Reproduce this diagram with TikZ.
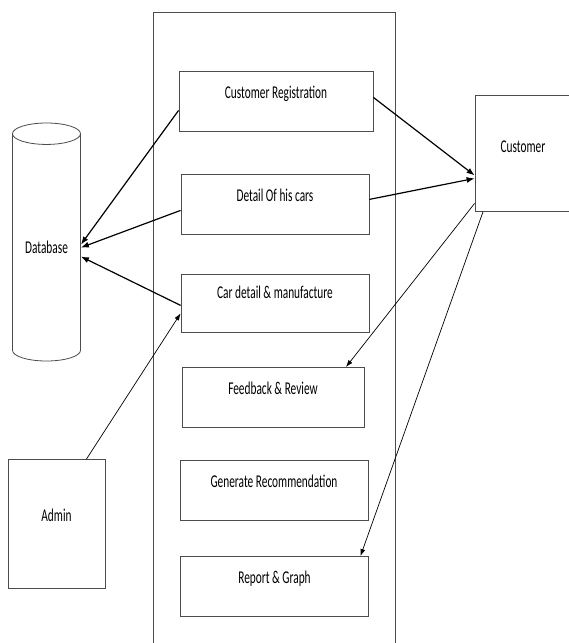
\documentclass[tikz,border=0pt]{standalone}
\usepackage{fontspec}
\setmainfont[FakeStretch=0.63]{Carlito}
\usetikzlibrary{shapes.geometric,arrows.meta}

\begin{document}
\begin{tikzpicture}[x=1pt,y=-1pt]

\tikzstyle{proc}=[rectangle, draw=black!70, line width=0.8pt, minimum width=188pt, text height=27pt, text depth=33pt, inner sep=0pt, anchor=north, font=\fontsize{18}{20}\selectfont]
\tikzstyle{actor}=[rectangle, draw=black!70, line width=0.8pt, minimum width=97pt, inner sep=0pt, anchor=north, font=\fontsize{18}{20}\selectfont]
\tikzstyle{arrow}=[-{Latex[length=7pt,width=5pt]}, line width=0.7pt]
\tikzstyle{biarrow}=[-{Latex[length=8pt,width=6pt]}, line width=1.2pt]

\useasboundingbox (0,0) rectangle (568,643);

% system boundary
\node (sys) [draw=black!70, line width=0.8pt, minimum width=242pt, minimum height=660pt, inner sep=0pt, anchor=north west] at (153,12) {};

\node (cr)[proc, minimum width=194pt] at (276,71) {Customer Registration};
\node (dc)[proc] at (275,174) {Detail Of his cars};
\node (cd)[proc, text height=24pt, text depth=34pt] at (275,274) {Car detail \& manufacture};
\node (fr)[proc, minimum width=182pt] at (273,367) {Feedback \& Review};
\node (gr)[proc] at (274,460) {Generate Recommendation};
\node (rg)[proc] at (274.5,556) {Report \& Graph};

\node (db)[cylinder, shape border rotate=90, draw=black!70, line width=0.8pt, aspect=0.5, minimum width=68pt, minimum height=238pt, inner sep=0pt, anchor=shape center, font=\fontsize{18}{20}\selectfont] at (46.5,242) {Database};

\node (admin)[actor, text height=62pt, text depth=67pt] at (56.5,459) {Admin};
\node (cust)[actor, minimum width=96pt, text height=57pt, text depth=59pt] at (523,95) {Customer};

\draw [biarrow] ([yshift=-9pt]cr.west) -- ([yshift=3pt]db.east);
\draw [biarrow] ([yshift=-6pt]dc.west) -- (db.east);
\draw [biarrow] ([yshift=-2pt]cd.west) -- ([yshift=-9pt]db.east);
\draw [arrow] ([xshift=30pt]admin.north) -- ([yshift=-10pt]cd.west);
\draw [biarrow] ([yshift=4pt]cr.east) -- ([yshift=-22pt]cust.west);
\draw [biarrow] ([yshift=5pt]dc.east) -- ([yshift=-25pt]cust.west);
\draw [arrow] ([yshift=-50pt]cust.west) -- ([xshift=73pt]fr.north);
\draw [arrow] ([xshift=-40pt]cust.south) -- ([xshift=86pt]rg.north);

\end{tikzpicture}
\end{document}
